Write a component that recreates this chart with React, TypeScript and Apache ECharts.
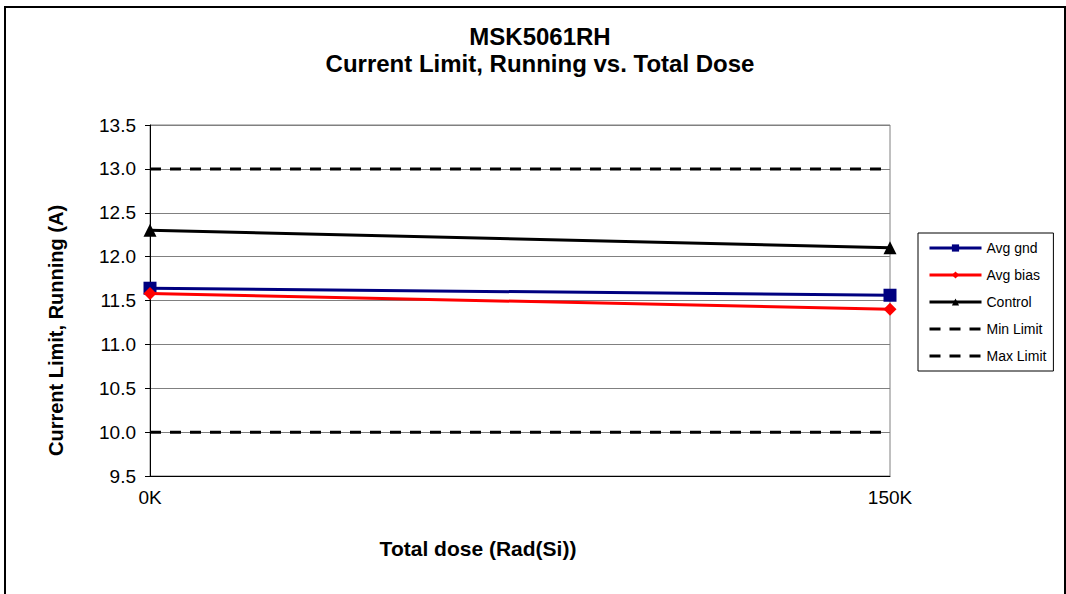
import React, { useEffect, useRef } from "react";
import * as echarts from "echarts";

const categories = ["0K", "150K"];
const avgGnd = [11.64, 11.56];
const avgBias = [11.58, 11.4];
const control = [12.3, 12.1];
const minLimit = [10.0, 10.0];
const maxLimit = [13.0, 13.0];

const FONT = "Liberation Sans, Arial, sans-serif";

export default function App() {
  const ref = useRef<HTMLDivElement>(null);
  useEffect(() => {
    const chart = echarts.init(ref.current!, null, { renderer: "svg" });
    chart.setOption({
      animation: false,
      backgroundColor: "#ffffff",
      textStyle: { fontFamily: FONT },
      title: {
        text: "MSK5061RH\nCurrent Limit, Running vs. Total Dose",
        left: 535,
        top: 18,
        textAlign: "center",
        textStyle: { fontSize: 24, fontWeight: "bold", color: "#000", lineHeight: 27, fontFamily: FONT },
      },
      graphic: [
        {
          type: "rect",
          shape: { x: 5, y: 7, width: 1060, height: 600 },
          style: { fill: "none", stroke: "#000", lineWidth: 2 },
          silent: true,
        },
      ],
      legend: {
        orient: "vertical",
        left: 918,
        top: 233,
        padding: [8, 7, 8, 10],
        itemGap: 13,
        itemWidth: 52,
        itemHeight: 9,
        borderColor: "#000",
        borderWidth: 1,
        textStyle: { fontSize: 14, color: "#000", fontFamily: FONT, lineHeight: 14 },
        data: [
          { name: "Avg gnd", lineStyle: { width: 3 } },
          { name: "Avg bias", lineStyle: { width: 3 } },
          { name: "Control", lineStyle: { width: 3 } },
          { name: "Min Limit", lineStyle: { width: 3, type: [11, 9] }, itemStyle: { opacity: 0 } },
          { name: "Max Limit", lineStyle: { width: 3, type: [11, 9] }, itemStyle: { opacity: 0 } },
        ],
      },
      grid: {
        left: 150,
        top: 125,
        width: 740,
        height: 351,
        show: true,
        borderColor: "#808080",
        borderWidth: 1,
      },
      xAxis: {
        type: "category",
        data: categories,
        boundaryGap: false,
        name: "Total dose (Rad(Si))",
        nameLocation: "middle",
        nameGap: 62,
        nameTextStyle: { fontSize: 21, fontWeight: "bold", color: "#000", fontFamily: FONT, padding: [0, 0, 0, -84] },
        axisLine: { lineStyle: { color: "#000", width: 1 } },
        axisTick: { show: false },
        axisLabel: { fontSize: 19, color: "#000", margin: 12, fontFamily: FONT },
        splitLine: { show: false },
      },
      yAxis: {
        type: "value",
        min: 9.5,
        max: 13.5,
        interval: 0.5,
        name: "Current Limit, Running (A)",
        nameLocation: "middle",
        nameGap: 84,
        nameTextStyle: { fontSize: 20, fontWeight: "bold", color: "#000", fontFamily: FONT, padding: [0, 60, 0, 0] },
        axisLine: { show: true, lineStyle: { color: "#000", width: 1 } },
        axisTick: { show: true, length: 5, lineStyle: { color: "#000" } },
        axisLabel: {
          fontSize: 19,
          color: "#000",
          margin: 14,
          fontFamily: FONT,
          formatter: (v: number) => v.toFixed(1),
        },
        splitLine: { show: true, lineStyle: { color: "#808080", width: 1 } },
      },
      series: [
        {
          name: "Avg gnd",
          type: "line",
          data: avgGnd,
          color: "#000080",
          symbol: "rect",
          symbolSize: 13,
          lineStyle: { width: 3, color: "#000080" },
          itemStyle: { color: "#000080" },
          z: 4,
        },
        {
          name: "Avg bias",
          type: "line",
          data: avgBias,
          color: "#ff0000",
          symbol: "diamond",
          symbolSize: 13,
          lineStyle: { width: 3, color: "#ff0000" },
          itemStyle: { color: "#ff0000" },
          z: 5,
        },
        {
          name: "Control",
          type: "line",
          data: control,
          color: "#000",
          symbol: "triangle",
          symbolSize: 13,
          lineStyle: { width: 3, color: "#000" },
          itemStyle: { color: "#000" },
          z: 4,
        },
        {
          name: "Min Limit",
          type: "line",
          data: minLimit,
          color: "#000",
          symbol: "none",
          lineStyle: { width: 3, color: "#000", type: [11, 9] },
          z: 3,
        },
        {
          name: "Max Limit",
          type: "line",
          data: maxLimit,
          color: "#000",
          symbol: "none",
          lineStyle: { width: 3, color: "#000", type: [11, 9] },
          z: 3,
        },
      ],
    });
    return () => chart.dispose();
  }, []);
  return (
    <div
      ref={ref}
      style={{ position: "fixed", left: 0, top: 0, width: 1066, height: 594 }}
    />
  );
}
